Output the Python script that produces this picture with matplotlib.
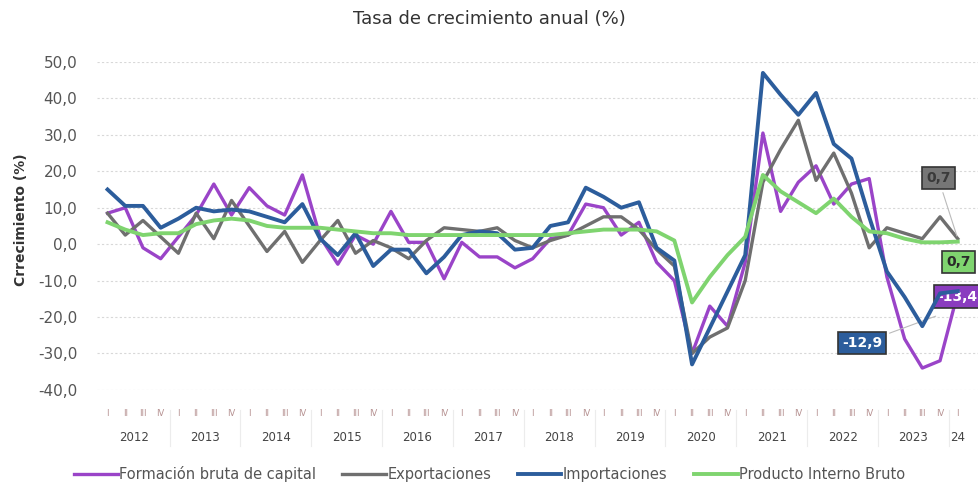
import matplotlib.pyplot as plt
from matplotlib.transforms import blended_transform_factory

plt.rcParams['font.family'] = ['DejaVu Sans']

# quarterly growth, 2012-I .. 2024-I
years = ["2012", "2013", "2014", "2015", "2016", "2017", "2018",
         "2019", "2020", "2021", "2022", "2023", "24"]
quarters = ["I", "II", "III", "IV"] * 12 + ["I"]

fbk = [8.5, 10, -1, -4,
       2, 8, 16.5, 8,
       15.5, 10.5, 8, 19,
       2, -5.5, 2.5, 0,
       9, 0.5, 0.5, -9.5,
       0.5, -3.5, -3.5, -6.5,
       -4, 1.5, 2.5, 11,
       10, 2.5, 6, -5,
       -10, -30, -17, -22.5,
       -5, 30.5, 9, 17,
       21.5, 11, 16.5, 18,
       -9, -26, -34, -32,
       -13.4]
exportaciones = [8.5, 2.5, 6.5, 2,
                 -2.5, 8.5, 1.5, 12,
                 5, -2, 3.5, -5,
                 1, 6.5, -2.5, 1,
                 -1, -4, 1, 4.5,
                 4, 3.5, 4.5, 1,
                 -1, 1, 2.5, 5,
                 7.5, 7.5, 4, -1.5,
                 -6, -30, -25.5, -23,
                 -10, 17, 26, 34,
                 17.5, 25, 14, -1,
                 4.5, 3, 1.5, 7.5,
                 1.5]
importaciones = [15, 10.5, 10.5, 4.5,
                 7, 10, 9, 9.5,
                 9, 7.5, 6, 11,
                 1.5, -3, 3, -6,
                 -1.5, -1.5, -8, -3.5,
                 2.5, 3.5, 3, -1.5,
                 -1, 5, 6, 15.5,
                 13, 10, 11.5, -1,
                 -4.5, -33, -23, -13,
                 -3, 47, 41, 35.5,
                 41.5, 27.5, 23.5, 7.5,
                 -7.5, -14.5, -22.5, -13.5,
                 -12.9]
pib = [6, 4, 2.5, 3,
       3, 5.5, 6.5, 7,
       6.5, 5, 4.5, 4.5,
       4.5, 4, 3.5, 3,
       3, 2.5, 2.5, 2.5,
       2.5, 2.5, 2.5, 2.5,
       2.5, 2.5, 3, 3.5,
       4, 4, 4, 3.5,
       1, -16, -9, -3,
       2, 19, 14.5, 11.5,
       8.5, 12.5, 7.5, 3.5,
       3, 1.5, 0.5, 0.5,
       0.7]

c_fbk = "#9a44c8"
c_exp = "#6f6f6f"
c_imp = "#2c5d9c"
c_pib = "#7fd46f"

fig = plt.figure(figsize=(9.79, 4.88), dpi=100)
ax = fig.add_axes([0.099, 0.201, 0.901, 0.672])

x = list(range(len(quarters)))
ax.plot(x, fbk, color=c_fbk, lw=2.4, label="Formación bruta de capital", zorder=3)
ax.plot(x, exportaciones, color=c_exp, lw=2.4, label="Exportaciones", zorder=3)
ax.plot(x, importaciones, color=c_imp, lw=2.8, label="Importaciones", zorder=4)
ax.plot(x, pib, color=c_pib, lw=2.8, label="Producto Interno Bruto", zorder=5)

ax.set_xlim(-0.6, 49.2)
ax.set_ylim(-40, 50)
yt = list(range(-40, 51, 10))
ax.set_yticks(yt)
ax.set_yticklabels([f"{v:.1f}".replace(".", ",") for v in yt], fontsize=11, color="#555555")
ax.grid(axis="y", color="#d8d8d8", lw=0.8, ls=(0, (2, 2)))
ax.set_axisbelow(True)
for s in ax.spines.values():
    s.set_visible(False)
ax.tick_params(length=0)
ax.tick_params(axis="y", pad=14)

ax.set_xticks(x)
ax.set_xticklabels(quarters, fontsize=6, color="#b59090")
ax.tick_params(axis="x", pad=14)

trans = blended_transform_factory(ax.transData, ax.transAxes)
for k, yr in enumerate(years):
    xc = 4 * k + 1.5 if k < 12 else 48
    ax.text(xc, -0.145, yr, transform=trans, ha="center", va="center",
            fontsize=8.5, color="#444444")
    if k > 0:
        ax.plot([4 * k - 0.5] * 2, [-0.06, -0.17], transform=trans,
                color="#ececec", lw=0.8, clip_on=False)

ax.set_ylabel("Crrecimiento (%)", fontsize=10, fontweight="bold", color="#333333")
ax.yaxis.set_label_coords(-0.078, 0.52)
fig.text(0.5, 0.962, "Tasa de crecimiento anual (%)", ha="center", va="center",
         fontsize=13, color="#333333")

# end labels
box = dict(boxstyle="square,pad=0.3", lw=1.2, ec="#333333")
ax.annotate("0,7", xy=(48, exportaciones[-1]), xytext=(46.9, 18.1), ha="center", va="center",
            fontsize=10, fontweight="bold", color="#3a3a3a",
            bbox=dict(box, fc="#767676"),
            arrowprops=dict(arrowstyle="-", color="#bbbbbb", lw=0.8), annotation_clip=False)
ax.annotate("0,7", xy=(48, pib[-1]), xytext=(48.05, -4.9), ha="center", va="center",
            fontsize=10, fontweight="bold", color="#2a2a2a",
            bbox=dict(box, fc=c_pib), annotation_clip=False)
ax.annotate("-13,4", xy=(48, fbk[-1]), xytext=(48.0, -14.4), ha="center", va="center",
            fontsize=10, fontweight="bold", color="white",
            bbox=dict(box, fc="#8a3cbf"), annotation_clip=False)
ax.annotate("-12,9", xy=(46.9, -19.5), xytext=(42.6, -27.2), ha="center", va="center",
            fontsize=10, fontweight="bold", color="white",
            bbox=dict(box, fc=c_imp),
            arrowprops=dict(arrowstyle="-", color="#bbbbbb", lw=0.8), annotation_clip=False)

fig.legend(loc="center", bbox_to_anchor=(0.5, 0.028), ncol=4, frameon=False,
           fontsize=10.5, handlelength=3.0, handletextpad=0.1, columnspacing=1.8,
           labelcolor="#555555")

fig.savefig("out.png", dpi=100)
